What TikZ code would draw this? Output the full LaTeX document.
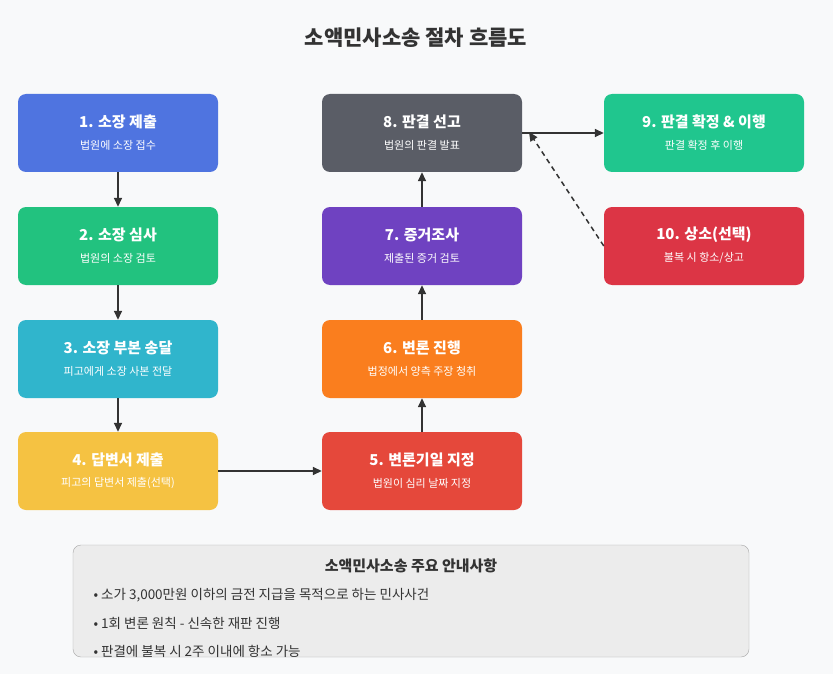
\documentclass[tikz,border=0pt]{standalone}
\usepackage{fontspec}
\setmainfont{Noto Sans CJK KR}
\usetikzlibrary{arrows.meta}
\definecolor{bg}{HTML}{F8F9FA}
\definecolor{c1}{HTML}{4F74E0}\definecolor{c2}{HTML}{22C27F}\definecolor{c3}{HTML}{30B5CC}
\definecolor{c4}{HTML}{F5C242}\definecolor{c5}{HTML}{E5483B}\definecolor{c6}{HTML}{FA7E1E}
\definecolor{c7}{HTML}{6F42C1}\definecolor{c8}{HTML}{5A5D66}\definecolor{c9}{HTML}{20C68E}
\definecolor{c10}{HTML}{DC3545}\definecolor{ln}{HTML}{333333}
\tikzset{
 stepbox/.style={rounded corners=8pt,minimum width=200pt,minimum height=78pt,inner sep=0pt},
 ttl/.style={text=white,font=\bfseries\fontsize{15}{18}\selectfont},
 sub/.style={text=white,font=\fontsize{11}{13}\selectfont},
 arr/.style={draw=ln,line width=1.5pt,-{Triangle[length=9pt,width=8pt]}},
}
\newcommand{\mkbox}[6]{%
 \node[stepbox,fill=#4] (#1) at (#2,#3) {};
 \node[ttl] at ([yshift=11pt]#1.center) {#5};
 \node[sub] at ([yshift=-12pt]#1.center) {#6};}
\begin{document}
\begin{tikzpicture}[x=1pt,y=-1pt]
\fill[bg] (0,0) rectangle (833,674);
\useasboundingbox (0,0) rectangle (833,674);
\node[font=\bfseries\fontsize{21}{25}\selectfont,text=ln] (title) at (416,38) {소액민사소송 절차 흐름도};
\mkbox{n1}{118}{133}{c1}{1. 소장 제출}{법원에 소장 접수}
\mkbox{n2}{118}{246}{c2}{2. 소장 심사}{법원의 소장 검토}
\mkbox{n3}{118}{359}{c3}{3. 소장 부본 송달}{피고에게 소장 사본 전달}
\mkbox{n4}{118}{471}{c4}{4. 답변서 제출}{피고의 답변서 제출(선택)}
\mkbox{n5}{422}{471}{c5}{5. 변론기일 지정}{법원이 심리 날짜 지정}
\mkbox{n6}{422}{359}{c6}{6. 변론 진행}{법정에서 양측 주장 청취}
\mkbox{n7}{422}{246}{c7}{7. 증거조사}{제출된 증거 검토}
\mkbox{n8}{422}{133}{c8}{8. 판결 선고}{법원의 판결 발표}
\mkbox{n9}{704}{133}{c9}{9. 판결 확정 \& 이행}{판결 확정 후 이행}
\mkbox{n10}{704}{246}{c10}{10. 상소(선택)}{불복 시 항소/상고}
\draw[arr] (n1) -- (n2);
\draw[arr] (n2) -- (n3);
\draw[arr] (n3) -- (n4);
\draw[arr] (n4) -- (n5);
\draw[arr] (n5) -- (n6);
\draw[arr] (n6) -- (n7);
\draw[arr] (n7) -- (n8);
\draw[arr] (n8) -- (n9);
\coordinate (d8) at (529,132);
\draw[arr,dash pattern=on 5pt off 4pt] (n10.west) -- (d8);
\node[draw=gray!70,fill=gray!15,rounded corners=8pt,minimum width=676pt,minimum height=112pt] (info) at (411,601) {};
\node[font=\bfseries\fontsize{15}{18}\selectfont,text=ln] (ih) at (411,566) {소액민사소송 주요 안내사항};
\node[anchor=west,font=\fontsize{13.5}{16}\selectfont,text=ln] (b1) at (90,595) {• 소가 3,000만원 이하의 금전 지급을 목적으로 하는 민사사건};
\node[anchor=west,font=\fontsize{13.5}{16}\selectfont,text=ln] (b2) at (90,623) {• 1회 변론 원칙 - 신속한 재판 진행};
\node[anchor=west,font=\fontsize{13.5}{16}\selectfont,text=ln] (b3) at (90,651) {• 판결에 불복 시 2주 이내에 항소 가능};
\end{tikzpicture}
\end{document}
